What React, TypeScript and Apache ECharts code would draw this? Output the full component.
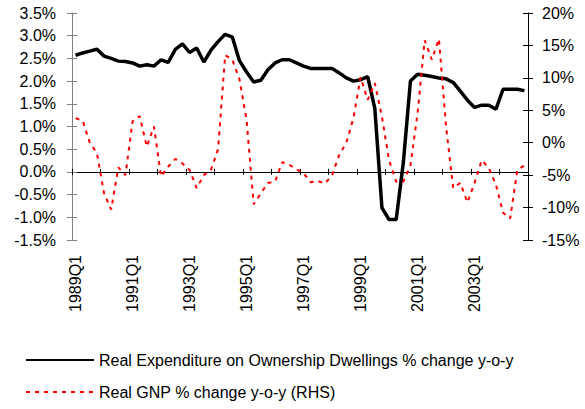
import React, { useEffect, useRef } from "react";
import * as echarts from "echarts";

const years = [1989, 1990, 1991, 1992, 1993, 1994, 1995, 1996, 1997, 1998, 1999, 2000, 2001, 2002, 2003, 2004];
const quarters = ["Q1", "Q2", "Q3", "Q4"];
const categories: string[] = [];
years.forEach((y) => quarters.forEach((q) => categories.push(`${y}${q}`)));

// Real Expenditure on Ownership Dwellings % change y-o-y (LHS, %)
const dwellings = [
  2.57, 2.62, 2.66, 2.7,
  2.55, 2.5, 2.44, 2.43,
  2.4, 2.33, 2.36, 2.33,
  2.47, 2.41, 2.7, 2.82,
  2.63, 2.73, 2.42, 2.68,
  2.87, 3.03, 2.97, 2.45,
  2.2, 1.98, 2.02, 2.25,
  2.4, 2.47, 2.47, 2.4,
  2.33, 2.28, 2.28, 2.28,
  2.28, 2.18, 2.07, 2.0,
  2.03, 2.1, 1.4, -0.79,
  -1.05, -1.05, 0.2, 2.0,
  2.15, 2.13, 2.1, 2.07,
  2.05, 1.97, 1.78, 1.58,
  1.42, 1.47, 1.47, 1.38,
  1.82, 1.82, 1.82, 1.79,
];

// Real GNP % change y-o-y (RHS, %)
const gnp = [
  3.8, 3.4, 0.0, -1.6,
  -7.8, -10.3, -3.8, -5.0,
  3.3, 4.1, -0.6, 2.5,
  -5.2, -3.7, -2.5, -3.2,
  -4.2, -7.0, -5.0, -4.2,
  -1.0, 13.5, 12.8, 9.8,
  3.5, -9.5, -7.8, -6.2,
  -6.0, -3.0, -3.4, -4.1,
  -4.7, -6.1, -5.9, -6.3,
  -5.0, -1.9, 0.0, 3.8,
  10.1, 6.6, 9.2, 4.0,
  -2.7, -6.0, -6.0, -3.5,
  4.5, 15.8, 12.8, 16.0,
  2.5, -7.0, -6.2, -9.2,
  -6.2, -2.7, -3.9, -6.5,
  -10.8, -11.7, -4.2, -3.5,
];

const seriesNames = [
  "Real Expenditure on Ownership Dwellings % change y-o-y",
  "Real GNP % change y-o-y (RHS)",
];

const FONT = "'Liberation Sans', Arial, sans-serif";

export default function App() {
  const ref = useRef<HTMLDivElement>(null);
  useEffect(() => {
    if (!ref.current) return;
    const chart = echarts.init(ref.current, undefined, { renderer: "svg" });
    const leftBase = { min: -1.5, max: 3.5, interval: 0.5, splitLine: { show: false } };
    const rightBase = { min: -15, max: 20, interval: 5, splitLine: { show: false } };
    chart.setOption({
      animation: false,
      backgroundColor: "#ffffff",
      textStyle: { fontFamily: FONT, color: "#000" },
      grid: { left: 72, right: 57, top: 13, bottom: 169, containLabel: false },
      legend: {
        orient: "vertical",
        left: 20,
        top: 347,
        itemWidth: 68,
        itemHeight: 16,
        itemGap: 16,
        itemStyle: { opacity: 0 },
        textStyle: { fontFamily: FONT, fontSize: 16, color: "#000" },
        data: seriesNames,
      },
      xAxis: [
        {
          type: "category",
          data: categories,
          position: "bottom",
          boundaryGap: true,
          axisLine: { show: true, onZero: true, onZeroAxisIndex: 0, lineStyle: { color: "#000", width: 1 } },
          axisTick: { show: true, interval: 3, length: 3, lineStyle: { color: "#000" } },
          axisLabel: { show: false },
          splitLine: { show: false },
        },
        {
          type: "category",
          data: categories,
          position: "bottom",
          boundaryGap: true,
          axisLine: { show: false, onZero: false },
          axisTick: { show: false },
          axisLabel: {
            show: true,
            interval: 7,
            rotate: 90,
            margin: 15,
            fontSize: 16,
            fontFamily: FONT,
            color: "#000",
          },
          splitLine: { show: false },
        },
        {
          type: "category",
          data: categories,
          position: "bottom",
          boundaryGap: true,
          axisLine: { show: false, onZero: true, onZeroAxisIndex: 0 },
          axisTick: { show: true, inside: true, interval: 3, length: 3, lineStyle: { color: "#000" } },
          axisLabel: { show: false },
          splitLine: { show: false },
        },
      ],
      yAxis: [
        {
          type: "value",
          position: "left",
          ...leftBase,
          axisLine: { show: true, lineStyle: { color: "#808080", width: 1 } },
          axisTick: { show: true, length: 5, lineStyle: { color: "#808080" } },
          axisLabel: {
            margin: 16,
            fontSize: 16,
            fontFamily: FONT,
            color: "#000",
            formatter: (v: number) => v.toFixed(1) + "%",
          },
        },
        {
          type: "value",
          position: "right",
          ...rightBase,
          axisLine: { show: true, lineStyle: { color: "#000", width: 1 } },
          axisTick: { show: true, length: 5, lineStyle: { color: "#000" } },
          axisLabel: {
            margin: 14,
            fontSize: 16,
            fontFamily: FONT,
            color: "#000",
            formatter: (v: number) => v + "%",
          },
        },
        {
          type: "value",
          position: "left",
          ...leftBase,
          axisLine: { show: false },
          axisTick: { show: true, inside: true, length: 5, lineStyle: { color: "#808080" } },
          axisLabel: { show: false },
        },
        {
          type: "value",
          position: "right",
          ...rightBase,
          axisLine: { show: false },
          axisTick: { show: true, inside: true, length: 5, lineStyle: { color: "#000" } },
          axisLabel: { show: false },
        },
      ],
      series: [
        {
          name: seriesNames[0],
          type: "line",
          xAxisIndex: 0,
          yAxisIndex: 0,
          data: dwellings,
          symbol: "none",
          lineStyle: { color: "#000", width: 3.5 },
          itemStyle: { color: "#000" },
          z: 2,
        },
        {
          name: seriesNames[1],
          type: "line",
          xAxisIndex: 0,
          yAxisIndex: 1,
          data: gnp,
          symbol: "none",
          lineStyle: { color: "#ff0000", width: 2, type: [4, 5] },
          itemStyle: { color: "#ff0000" },
          z: 3,
        },
      ],
    });
    return () => chart.dispose();
  }, []);
  return (
    <div
      ref={ref}
      style={{ position: "fixed", left: 0, top: 0, width: 585, height: 409, background: "#fff" }}
    />
  );
}
